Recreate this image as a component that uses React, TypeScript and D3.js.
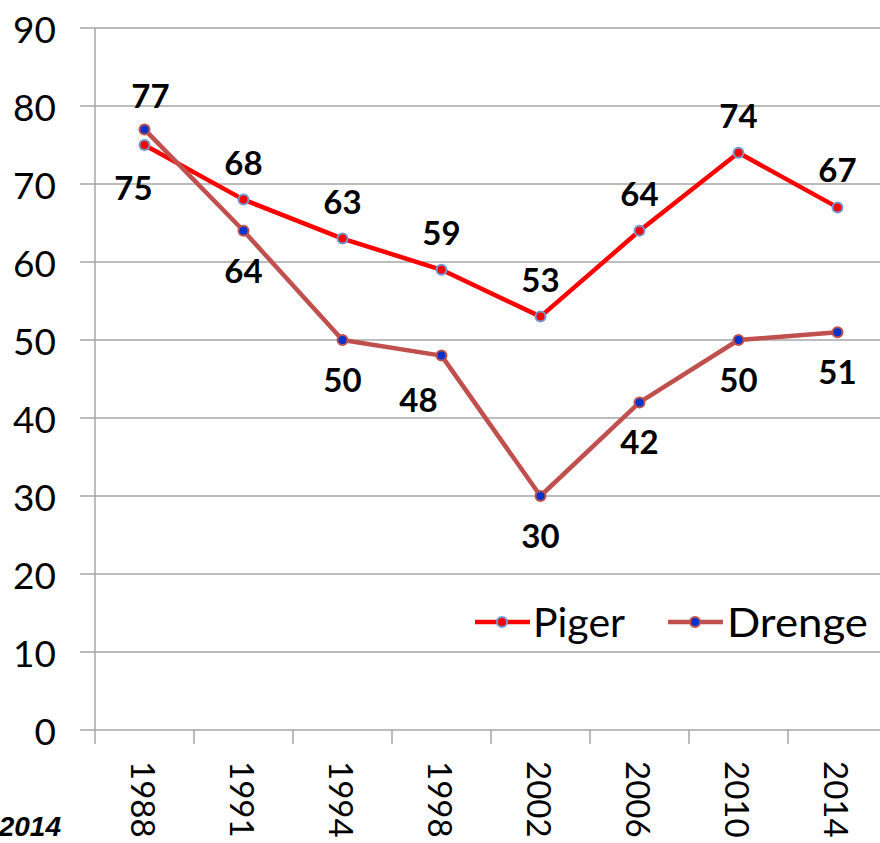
import React from "react";
import * as d3 from "d3";

const years = ["1988", "1991", "1994", "1998", "2002", "2006", "2010", "2014"];
const piger = [75, 68, 63, 59, 53, 64, 74, 67];
const drenge = [77, 64, 50, 48, 30, 42, 50, 51];
const yTicks = [0, 10, 20, 30, 40, 50, 60, 70, 80, 90];

const W = 880;
const H = 843;

export default function App() {
  const x = d3.scaleBand<string>().domain(years).range([95, 887]);
  const y = d3.scaleLinear().domain([0, 90]).range([730, 28]);
  const cx = (d: string) => (x(d) as number) + x.bandwidth() / 2;
  const line = d3
    .line<number>()
    .x((_, i) => cx(years[i]))
    .y((v) => y(v));

  const font = "Lato, 'Open Sans', sans-serif";
  const gridColor = "#a6a6a6";

  // label offsets (dx, dy) relative to point
  const pigerOff = (i: number) => (i === 0 ? [-11, 42] : [0, -38]);
  const drengeOff = (i: number) =>
    i === 0 ? [6, -34] : i === 3 ? [-23, 43] : [0, 39];

  return (
    <svg
      width={W}
      height={H}
      style={{ position: "absolute", left: 0, top: 0, background: "#fff" }}
    >
      {/* gridlines */}
      {yTicks.map((t) => (
        <line
          key={"g" + t}
          x1={80}
          x2={W}
          y1={y(t)}
          y2={y(t)}
          stroke={gridColor}
          strokeWidth={1.5}
        />
      ))}
      {/* y axis */}
      <line x1={95} x2={95} y1={y(90)} y2={744} stroke={gridColor} strokeWidth={1.5} />
      {yTicks.map((t) => (
        <text
          key={"yl" + t}
          x={56}
          y={y(t)}
          textAnchor="end"
          dominantBaseline="central"
          fontFamily={font}
          fontSize={37}
          fill="#000"
        >
          {t}
        </text>
      ))}
      {/* x ticks */}
      {years.map((yr) => (
        <line
          key={"xt" + yr}
          x1={(x(yr) as number) + x.bandwidth()}
          x2={(x(yr) as number) + x.bandwidth()}
          y1={730}
          y2={744}
          stroke={gridColor}
          strokeWidth={1.5}
        />
      ))}
      {years.map((yr) => (
        <text
          key={"xl" + yr}
          transform={`translate(${cx(yr) - 1},761) rotate(90)`}
          textAnchor="start"
          dominantBaseline="central"
          fontFamily={font}
          fontSize={33}
          fill="#000"
        >
          {yr}
        </text>
      ))}
      {/* lines */}
      <path d={line(piger) || ""} fill="none" stroke="#FF0000" strokeWidth={4.5} strokeLinejoin="round" />
      <path d={line(drenge) || ""} fill="none" stroke="#C0504D" strokeWidth={4.5} strokeLinejoin="round" />
      {piger.map((v, i) => (
        <circle key={"pc" + i} cx={cx(years[i])} cy={y(v)} r={5} fill="#FF0000" stroke="#6F9BD1" strokeWidth={2} />
      ))}
      {drenge.map((v, i) => (
        <circle key={"dc" + i} cx={cx(years[i])} cy={y(v)} r={5} fill="#0033CC" stroke="#C0504D" strokeWidth={2} />
      ))}
      {/* data labels */}
      {piger.map((v, i) => {
        const [dx, dy] = pigerOff(i);
        return (
          <text
            key={"pl" + i}
            x={cx(years[i]) + dx}
            y={y(v) + dy}
            textAnchor="middle"
            dominantBaseline="central"
            fontFamily={font}
            fontWeight="bold"
            fontSize={33}
            fill="#000"
          >
            {v}
          </text>
        );
      })}
      {drenge.map((v, i) => {
        const [dx, dy] = drengeOff(i);
        return (
          <text
            key={"dl" + i}
            x={cx(years[i]) + dx}
            y={y(v) + dy}
            textAnchor="middle"
            dominantBaseline="central"
            fontFamily={font}
            fontWeight="bold"
            fontSize={33}
            fill="#000"
          >
            {v}
          </text>
        );
      })}
      {/* legend */}
      <g>
        <line x1={475} x2={530} y1={622} y2={622} stroke="#FF0000" strokeWidth={4.5} />
        <circle cx={502} cy={622} r={5} fill="#FF0000" stroke="#6F9BD1" strokeWidth={2} />
        <text x={533} y={622} dominantBaseline="central" fontFamily={font} fontSize={40} textLength={92} lengthAdjust="spacingAndGlyphs" fill="#000">
          Piger
        </text>
        <line x1={668} x2={723} y1={622} y2={622} stroke="#C0504D" strokeWidth={4.5} />
        <circle cx={695} cy={622} r={5} fill="#0033CC" stroke="#C0504D" strokeWidth={2} />
        <text x={727} y={622} dominantBaseline="central" fontFamily={font} fontSize={40} textLength={141} lengthAdjust="spacingAndGlyphs" fill="#000">
          Drenge
        </text>
      </g>
      {/* source fragment */}
      <text
        x={61}
        y={836}
        textAnchor="end"
        fontFamily="'Liberation Sans', Arial, sans-serif"
        fontWeight="bold"
        fontStyle="italic"
        fontSize={28}
        fill="#000"
      >
        2014
      </text>
    </svg>
  );
}
